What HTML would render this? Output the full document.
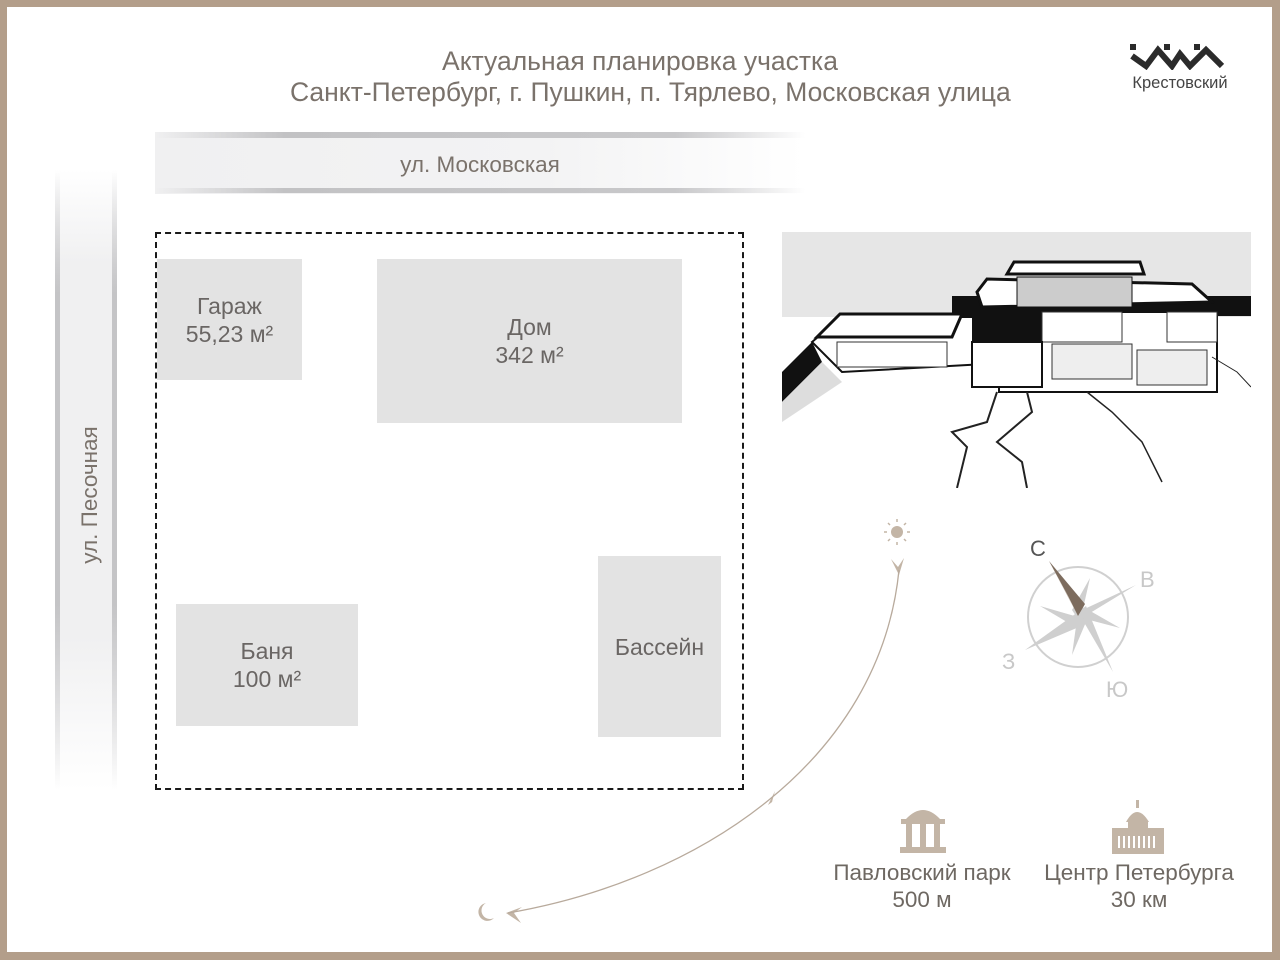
<!DOCTYPE html>
<html><head><meta charset="utf-8"><style>
html,body{margin:0;padding:0}
body{width:1280px;height:960px;position:relative;background:#fff;font-family:"Liberation Sans",sans-serif;overflow:hidden}
.frame{position:absolute;left:0;top:0;width:1280px;height:960px;box-sizing:border-box;border:solid #b39e8a;border-width:7px 8px 8px 7px}
.t{position:absolute;color:#7a726b;text-align:center;white-space:nowrap}
.box{position:absolute;background:#e3e3e3;color:#6a6664;font-size:23px;display:flex;align-items:center;justify-content:center;text-align:center;line-height:28px}
</style></head><body>
<div class="t" style="left:290px;top:46px;width:700px;font-size:26.5px;line-height:31px">Актуальная планировка участка<br>Санкт-Петербург, г. Пушкин, п. Тярлево, Московская улица</div>

<!-- horizontal road -->
<div style="position:absolute;left:155px;top:132px;width:650px;height:62px;background:linear-gradient(90deg,#f0f0f1 0%,#f3f3f4 60%,rgba(255,255,255,0) 100%)"></div>
<div style="position:absolute;left:155px;top:132px;width:650px;height:6px;background:linear-gradient(90deg,rgba(200,200,200,0),#c2c2c4 20%,#c8c8ca 80%,rgba(255,255,255,0))"></div>
<div style="position:absolute;left:155px;top:188px;width:650px;height:5px;background:linear-gradient(90deg,rgba(200,200,200,0),#c2c2c4 20%,#c8c8ca 80%,rgba(255,255,255,0))"></div>
<div class="t" style="left:380px;top:152px;width:200px;font-size:22.5px">ул. Московская</div>

<!-- vertical road -->
<div style="position:absolute;left:55px;top:170px;width:62px;height:620px;background:linear-gradient(180deg,rgba(255,255,255,0),#f0f0f1 15%,#f0f0f1 75%,rgba(255,255,255,0))"></div>
<div style="position:absolute;left:55px;top:170px;width:5px;height:620px;background:linear-gradient(180deg,rgba(255,255,255,0),#c4c4c6 20%,#c4c4c6 70%,rgba(255,255,255,0))"></div>
<div style="position:absolute;left:112px;top:170px;width:5px;height:620px;background:linear-gradient(180deg,rgba(255,255,255,0),#c4c4c6 20%,#c4c4c6 70%,rgba(255,255,255,0))"></div>
<div class="t" style="left:-10px;top:482px;width:200px;font-size:22.5px;transform:rotate(-90deg)">ул. Песочная</div>

<!-- plot -->
<div style="position:absolute;left:155px;top:232px;width:589px;height:558px;box-sizing:border-box;border:2px dashed #1a1a1a"></div>
<div class="box" style="left:157px;top:259px;width:145px;height:121px">Гараж<br>55,23 м²</div>
<div class="box" style="left:377px;top:259px;width:305px;height:164px">Дом<br>342 м²</div>
<div class="box" style="left:176px;top:604px;width:182px;height:122px">Баня<br>100 м²</div>
<div class="box" style="left:598px;top:556px;width:123px;height:181px">Бассейн</div>

<!-- house sketch -->
<svg style="position:absolute;left:782px;top:232px" width="469" height="256" viewBox="0 0 469 256">
<rect x="0" y="0" width="469" height="85" fill="#e6e6e6"/>
<rect x="0" y="85" width="469" height="171" fill="#fff"/>
<polygon points="0,140 30,110 40,130 0,170" fill="#111"/>
<polygon points="0,170 40,130 60,150 0,190" fill="#ddd"/>
<rect x="170" y="64" width="299" height="20" fill="#111"/>
<polygon points="30,110 60,85 240,85 240,130 60,140" fill="#fff" stroke="#111" stroke-width="2"/>
<polygon points="35,105 58,82 180,82 170,105" fill="#fff" stroke="#111" stroke-width="3"/>
<rect x="55" y="110" width="110" height="25" fill="#fff" stroke="#333"/>
<rect x="217" y="80" width="218" height="80" fill="#fff" stroke="#111" stroke-width="2"/>
<rect x="190" y="80" width="80" height="30" fill="#111"/>
<rect x="260" y="80" width="80" height="30" fill="#fff" stroke="#333"/>
<rect x="385" y="80" width="50" height="30" fill="#fff" stroke="#333"/>
<rect x="190" y="110" width="70" height="45" fill="#fff" stroke="#111" stroke-width="2"/>
<rect x="270" y="112" width="80" height="35" fill="#eee" stroke="#333"/>
<rect x="355" y="118" width="70" height="35" fill="#eee" stroke="#333"/>
<polygon points="195,60 205,47 410,52 430,70 200,75" fill="#fff" stroke="#111" stroke-width="3"/>
<rect x="235" y="45" width="115" height="30" fill="#ccc" stroke="#111"/>
<polygon points="225,42 232,30 358,30 362,42" fill="#fff" stroke="#111" stroke-width="3"/>
<polyline points="215,160 205,190 170,200 185,215 175,256" fill="none" stroke="#222" stroke-width="2"/>
<polyline points="245,160 250,180 215,210 240,230 245,256" fill="none" stroke="#222" stroke-width="2"/>
<polyline points="305,160 330,180 360,210 380,250" fill="none" stroke="#222" stroke-width="1.5"/>
<polyline points="430,125 455,140 469,155" fill="none" stroke="#222" stroke-width="1"/>
</svg>

<!-- logo -->
<svg style="position:absolute;left:1128px;top:42px" width="106" height="28" viewBox="0 0 106 28">
<g fill="none" stroke="#2b2b2b" stroke-width="6" stroke-linejoin="miter">
<polyline points="4,14 18,24 30,8 44,24 52,12 62,24 78,8 94,24"/>
</g>
<rect x="2" y="2" width="6" height="6" fill="#2b2b2b"/><rect x="36" y="2" width="6" height="6" fill="#2b2b2b"/><rect x="66" y="2" width="6" height="6" fill="#2b2b2b"/>
</svg>
<div class="t" style="left:1122px;top:74px;width:116px;font-size:16.5px;color:#444">Крестовский</div>

<!-- sun path -->
<svg style="position:absolute;left:0;top:0" width="1280" height="960">
<g fill="#c3b5a6">
<circle cx="897" cy="532" r="6"/>
<g stroke="#c3b5a6" stroke-width="1.5">
<line x1="897" y1="519" x2="897" y2="522"/><line x1="897" y1="542" x2="897" y2="545"/>
<line x1="884" y1="532" x2="887" y2="532"/><line x1="907" y1="532" x2="910" y2="532"/>
<line x1="888" y1="523" x2="890" y2="525"/><line x1="904" y1="539" x2="906" y2="541"/>
<line x1="906" y1="523" x2="904" y2="525"/><line x1="888" y1="541" x2="890" y2="539"/>
</g>
<polygon points="891,559 898,567 904,558 899,575"/>
<polygon points="768,805 783,794 772,802 775,791"/>
<polygon points="506,913 522,907 514,913 521,923"/>
<path d="M486,903 a9,9 0 1 0 8,15 a7,7 0 1 1 -8,-15z"/>
</g>
<path d="M899,570 C880,760 700,880 508,913" fill="none" stroke="#b8aa9c" stroke-width="1.3"/>
<!-- compass -->
<circle cx="1078" cy="617" r="50" fill="none" stroke="#d0d0d0" stroke-width="2"/>
<g fill="#cfcfcf">
<polygon points="1025,650 1078,612 1086,624"/>
<polygon points="1136,585 1078,612 1072,624"/>
<polygon points="1113,672 1078,612 1086,606"/>
<polygon points="1090,578 1080,622 1072,610"/>
<polygon points="1120,628 1078,617 1085,608"/>
<polygon points="1072,655 1078,612 1086,622"/>
<polygon points="1040,606 1078,617 1072,625"/>
</g>
<polygon points="1049,561 1085,604 1078,616 1068,596" fill="#7d6c5e"/>
<polygon points="1049,561 1068,596 1078,616" fill="#bfb2a5"/>
</svg>
<div class="t" style="left:1030px;top:536px;font-size:22px;color:#555">С</div>
<div class="t" style="left:1140px;top:567px;font-size:22px;color:#c8c8c8">В</div>
<div class="t" style="left:1002px;top:649px;font-size:22px;color:#c8c8c8">З</div>
<div class="t" style="left:1106px;top:677px;font-size:22px;color:#c8c8c8">Ю</div>

<!-- landmarks -->
<svg style="position:absolute;left:898px;top:805px" width="50" height="50" viewBox="0 0 50 50">
<g fill="#c3b5a6"><path d="M8,14 Q25,-4 42,14z"/><rect x="3" y="14" width="44" height="5"/><rect x="8" y="19" width="6" height="24"/><rect x="22" y="19" width="6" height="24"/><rect x="36" y="19" width="6" height="24"/><rect x="2" y="42" width="46" height="6"/></g>
</svg>
<svg style="position:absolute;left:1110px;top:800px" width="56" height="56" viewBox="0 0 56 56">
<g fill="#c3b5a6"><rect x="26" y="0" width="3" height="8"/><path d="M16,22 Q27,2 39,22z"/><rect x="18" y="22" width="20" height="6"/><rect x="2" y="28" width="52" height="26"/></g>
<g fill="#fff"><rect x="8" y="36" width="2" height="12"/><rect x="13" y="36" width="2" height="12"/><rect x="18" y="36" width="2" height="12"/><rect x="23" y="36" width="2" height="12"/><rect x="28" y="36" width="2" height="12"/><rect x="33" y="36" width="2" height="12"/><rect x="38" y="36" width="2" height="12"/><rect x="43" y="36" width="2" height="12"/></g>
</svg>
<div class="t" style="left:812px;top:859px;width:220px;font-size:22.5px;line-height:27px;color:#6e6862">Павловский парк<br>500 м</div>
<div class="t" style="left:1024px;top:859px;width:230px;font-size:22.5px;line-height:27px;color:#6e6862">Центр Петербурга<br>30 км</div>

<div class="frame"></div>
</body></html>
